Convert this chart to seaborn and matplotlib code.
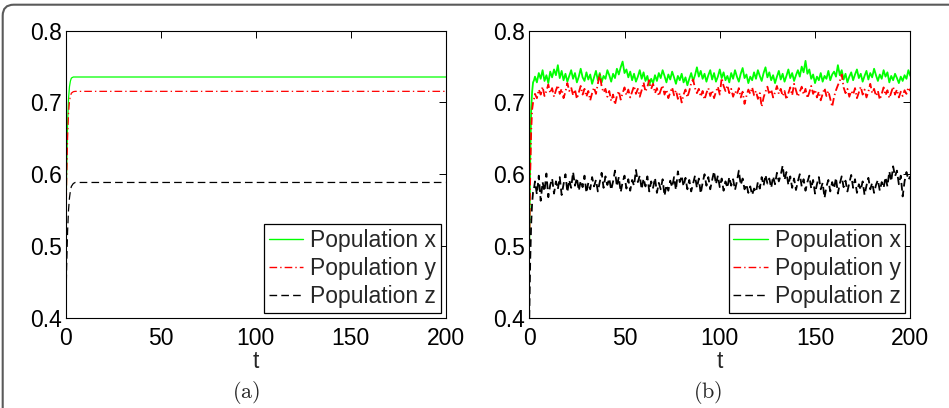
import matplotlib
matplotlib.use("Agg")
import matplotlib.pyplot as plt
import matplotlib.patches as mpatches
import matplotlib.transforms as mtransforms
import seaborn as sns

# panel (a): deterministic model
t_a = [0, 0.5, 1, 1.5, 2, 2.5, 3, 4, 5, 200]
x_a = [0.5, 0.6, 0.67, 0.705, 0.722, 0.73, 0.734, 0.7355, 0.7355, 0.7355]
y_a = [0.5, 0.59, 0.65, 0.685, 0.702, 0.709, 0.713, 0.715, 0.7155, 0.7155]
z_a = [0.4, 0.47, 0.52, 0.55, 0.567, 0.577, 0.583, 0.587, 0.5885, 0.5885]

# panel (b): stochastic model
t_b = [0, 0.5, 1, 1.5, 2, 2.5, 3] + list(range(4, 201))
x_b = [0.50, 0.62, 0.69, 0.715, 0.728, 0.731, 0.736,
       0.728, 0.741, 0.733, 0.745, 0.730, 0.738, 0.727, 0.743, 0.735, 0.746,
       0.738, 0.752, 0.734, 0.744, 0.731, 0.740, 0.729, 0.737, 0.745, 0.733,
       0.741, 0.728, 0.736, 0.747, 0.735, 0.730, 0.742, 0.732, 0.739, 0.726,
       0.735, 0.744, 0.731, 0.741, 0.728, 0.737, 0.733, 0.745, 0.738, 0.729,
       0.740, 0.734, 0.747, 0.739, 0.749, 0.757, 0.741, 0.746, 0.735, 0.743,
       0.731, 0.740, 0.729, 0.736, 0.745, 0.733, 0.742, 0.730, 0.737, 0.724,
       0.733, 0.727, 0.738, 0.730, 0.741, 0.734, 0.745, 0.737, 0.728, 0.739,
       0.732, 0.743, 0.735, 0.726, 0.737, 0.731, 0.740, 0.728, 0.735, 0.724,
       0.733, 0.741, 0.730, 0.738, 0.749, 0.736, 0.744, 0.733, 0.740, 0.729,
       0.738, 0.745, 0.732, 0.741, 0.729, 0.736, 0.746, 0.734, 0.742, 0.731,
       0.737, 0.728, 0.741, 0.733, 0.745, 0.736, 0.729, 0.740, 0.748, 0.734,
       0.739, 0.727, 0.736, 0.731, 0.742, 0.733, 0.745, 0.737, 0.730, 0.741,
       0.749, 0.735, 0.742, 0.731, 0.738, 0.727, 0.736, 0.744, 0.732, 0.740,
       0.729, 0.737, 0.746, 0.734, 0.741, 0.730, 0.738, 0.745, 0.736, 0.750,
       0.742, 0.758, 0.740, 0.746, 0.733, 0.739, 0.727, 0.736, 0.731, 0.741,
       0.729, 0.737, 0.733, 0.744, 0.731, 0.739, 0.743, 0.736, 0.752, 0.738,
       0.745, 0.732, 0.740, 0.728, 0.736, 0.742, 0.731, 0.739, 0.746, 0.734,
       0.740, 0.729, 0.737, 0.744, 0.732, 0.741, 0.735, 0.747, 0.738, 0.730,
       0.739, 0.733, 0.745, 0.736, 0.742, 0.728, 0.737, 0.731, 0.740, 0.734,
       0.727, 0.736, 0.730, 0.738, 0.733, 0.745, 0.737]
y_b = [0.50, 0.60, 0.66, 0.69, 0.70, 0.705, 0.712,
       0.706, 0.718, 0.711, 0.722, 0.709, 0.716, 0.725, 0.713, 0.720, 0.708,
       0.717, 0.724, 0.712, 0.719, 0.706, 0.715, 0.727, 0.716, 0.721, 0.710,
       0.718, 0.705, 0.714, 0.723, 0.711, 0.719, 0.708, 0.716, 0.703, 0.713,
       0.721, 0.712, 0.726, 0.740, 0.722, 0.714, 0.719, 0.708, 0.716, 0.702,
       0.711, 0.697, 0.709, 0.716, 0.704, 0.713, 0.721, 0.710, 0.718, 0.707,
       0.715, 0.723, 0.712, 0.719, 0.708, 0.717, 0.728, 0.715, 0.722, 0.731,
       0.719, 0.726, 0.713, 0.720, 0.709, 0.717, 0.724, 0.711, 0.718, 0.706,
       0.714, 0.721, 0.710, 0.717, 0.705, 0.713, 0.700, 0.711, 0.718, 0.707,
       0.716, 0.727, 0.732, 0.720, 0.713, 0.719, 0.708, 0.716, 0.704, 0.713,
       0.720, 0.709, 0.717, 0.706, 0.715, 0.722, 0.711, 0.734, 0.723, 0.716,
       0.724, 0.713, 0.719, 0.708, 0.716, 0.711, 0.720, 0.707, 0.715, 0.698,
       0.709, 0.718, 0.712, 0.721, 0.710, 0.716, 0.705, 0.713, 0.694, 0.707,
       0.715, 0.722, 0.711, 0.718, 0.707, 0.714, 0.723, 0.712, 0.719, 0.709,
       0.716, 0.704, 0.713, 0.721, 0.710, 0.726, 0.717, 0.708, 0.715, 0.722,
       0.711, 0.719, 0.706, 0.714, 0.723, 0.712, 0.718, 0.707, 0.715, 0.703,
       0.712, 0.720, 0.709, 0.716, 0.705, 0.694, 0.708, 0.717, 0.724, 0.730,
       0.739, 0.721, 0.713, 0.719, 0.708, 0.716, 0.711, 0.720, 0.706, 0.714,
       0.722, 0.711, 0.718, 0.707, 0.715, 0.726, 0.713, 0.719, 0.709, 0.716,
       0.704, 0.712, 0.721, 0.710, 0.717, 0.706, 0.714, 0.722, 0.711, 0.718,
       0.707, 0.715, 0.709, 0.717, 0.712, 0.721, 0.716]
z_b = [0.40, 0.48, 0.53, 0.56, 0.575, 0.58, 0.59,
       0.572, 0.598, 0.563, 0.589, 0.576, 0.601, 0.568, 0.585, 0.594, 0.573,
       0.590, 0.579, 0.596, 0.571, 0.586, 0.600, 0.575, 0.592, 0.581, 0.603,
       0.584, 0.595, 0.577, 0.591, 0.582, 0.598, 0.574, 0.588, 0.579, 0.596,
       0.583, 0.592, 0.576, 0.589, 0.602, 0.581, 0.597, 0.585, 0.594, 0.578,
       0.590, 0.605, 0.583, 0.596, 0.575, 0.589, 0.598, 0.580, 0.593, 0.577,
       0.592, 0.584, 0.606, 0.589, 0.598, 0.579, 0.594, 0.583, 0.597, 0.576,
       0.590, 0.581, 0.595, 0.574, 0.588, 0.579, 0.593, 0.570, 0.585, 0.577,
       0.591, 0.582, 0.596, 0.578, 0.604, 0.589, 0.598, 0.583, 0.595, 0.579,
       0.592, 0.576, 0.587, 0.598, 0.581, 0.594, 0.573, 0.588, 0.600, 0.584,
       0.596, 0.579, 0.592, 0.604, 0.586, 0.598, 0.582, 0.594, 0.577, 0.590,
       0.581, 0.596, 0.584, 0.593, 0.578, 0.590, 0.605, 0.585, 0.594, 0.579,
       0.586, 0.574, 0.583, 0.571, 0.580, 0.575, 0.589, 0.580, 0.596, 0.584,
       0.599, 0.587, 0.594, 0.581, 0.597, 0.586, 0.602, 0.590, 0.599, 0.612,
       0.592, 0.603, 0.585, 0.597, 0.581, 0.594, 0.578, 0.590, 0.600, 0.583,
       0.593, 0.577, 0.589, 0.598, 0.580, 0.592, 0.573, 0.586, 0.596, 0.579,
       0.588, 0.567, 0.583, 0.592, 0.576, 0.589, 0.580, 0.595, 0.573, 0.587,
       0.597, 0.582, 0.591, 0.576, 0.588, 0.599, 0.581, 0.593, 0.574, 0.586,
       0.578, 0.590, 0.571, 0.584, 0.595, 0.579, 0.588, 0.574, 0.585, 0.592,
       0.577, 0.589, 0.581, 0.596, 0.583, 0.604, 0.590, 0.611, 0.597, 0.605,
       0.586, 0.598, 0.569, 0.590, 0.603, 0.592, 0.597]

labels = ["Population x", "Population y", "Population z"]
colors = ["#00ff00", "#ff0000", "#000000"]
styles = ["-", (0, (5.5, 2.2, 1.0, 2.2)), (0, (5.5, 3.0))]
captions = ["(a)", "(b)"]
xticks = [0, 50, 100, 150, 200]
yticks = [0.4, 0.5, 0.6, 0.7, 0.8]

sns.set_style("white")
plt.rcParams["font.family"] = ["Liberation Sans", "DejaVu Sans"]
plt.rcParams["mathtext.fontset"] = "cm"
plt.rcParams["lines.scale_dashes"] = False

FS = 16.5
fig = plt.figure(figsize=(9.49, 4.08), dpi=100)
ax_a = fig.add_axes([0.0692, 0.2213, 0.4005, 0.7034])
ax_b = fig.add_axes([0.5577, 0.2213, 0.4015, 0.7034])

panels = [(ax_a, t_a, [x_a, y_a, z_a], 0.9), (ax_b, t_b, [x_b, y_b, z_b], 1.3)]
for ax, t, series, lw in panels:
    for vals, lab, col, ls in zip(series, labels, colors, styles):
        sns.lineplot(x=t, y=vals, ax=ax, color=col, linestyle=ls, lw=lw,
                     label=lab, estimator=None, sort=False)
    ax.set_xlim(0, 200)
    ax.set_ylim(0.4, 0.8)
    ax.set_xticks(xticks)
    ax.set_yticks(yticks)
    ax.set_yticklabels([f"{v:.1f}" for v in yticks])
    ax.tick_params(direction="in", length=5, width=0.7, top=True, right=True,
                   labelsize=FS, colors="black")
    ax.tick_params(axis="x", pad=7)
    ax.tick_params(axis="y", pad=3)
    for sp in ax.spines.values():
        sp.set_visible(True)
        sp.set_color("black")
        sp.set_linewidth(0.8)
    ax.set_xlabel("t", fontsize=FS)
    ax.xaxis.set_label_coords(0.5, -0.1125)
    ax.set_ylabel("")
    leg = ax.legend(loc="lower right", fontsize=FS, frameon=True, fancybox=False,
                    framealpha=1, edgecolor="black", handlelength=1.5,
                    handletextpad=0.3, labelspacing=0.22, borderpad=0.2,
                    borderaxespad=0.22)
    leg.get_frame().set_linewidth(0.9)
    for ln in leg.get_lines():
        ln.set_linewidth(1.0)

for cx, cap in zip([245.7, 708.0], captions):
    fig.text(cx / 949, 1 - 393 / 408, r"$\mathrm{" + cap + "}$",
             ha="center", va="center", fontsize=16)

# rounded journal frame, open on the right and bottom
frame = mpatches.FancyBboxPatch((2.7, -120), 1100, 408 - 4.7 + 120,
                                boxstyle="round,pad=0,rounding_size=11",
                                transform=mtransforms.IdentityTransform(),
                                fill=False, edgecolor="#5a5a5a", lw=1.5)
fig.patches.append(frame)

fig.savefig("out.png", dpi=100)
